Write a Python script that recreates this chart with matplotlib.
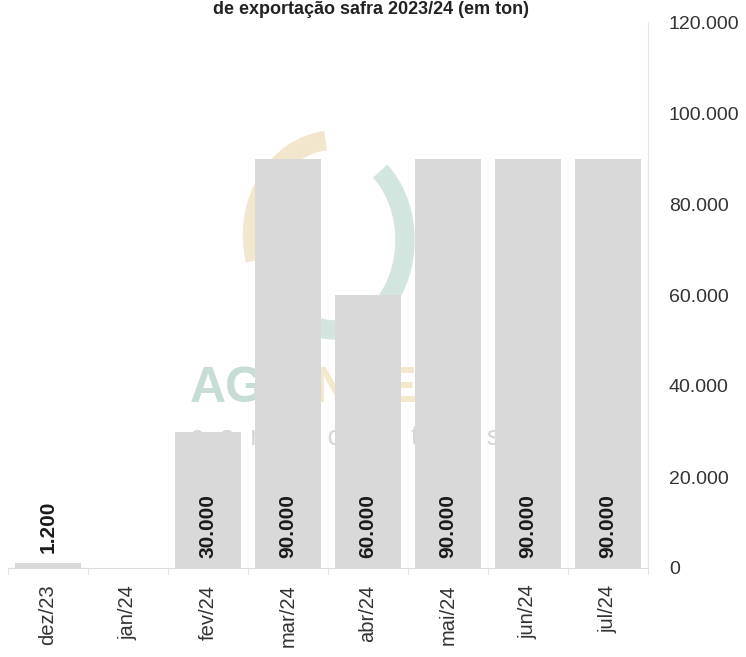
import matplotlib
matplotlib.use("Agg")
import matplotlib.pyplot as plt
from matplotlib.patches import Arc
from matplotlib.ticker import FuncFormatter

meses = ["dez/23", "jan/24", "fev/24", "mar/24", "abr/24", "mai/24", "jun/24", "jul/24"]
volumes = [1200, 0, 30000, 90000, 60000, 90000, 90000, 90000]
yticks = [0, 20000, 40000, 60000, 80000, 100000, 120000]
titulo = "de exportação safra 2023/24 (em ton)"

plt.rcParams["font.family"] = ["Liberation Sans", "DejaVu Sans"]

def br(v):
    return f"{v:,.0f}".replace(",", ".")

W, H = 746, 657
fig = plt.figure(figsize=(W / 100, H / 100), dpi=100)
ax = fig.add_axes([8 / W, (H - 568) / H, 640 / W, 546 / H])

x = range(len(meses))
ax.bar(x, volumes, width=0.83, color="#d9d9d9", zorder=2)

# faint logo watermark behind the bars (figure pixel coords, drawn in the axes)
def fx(px):
    return px / W
def fy(py):
    return 1 - py / H
tf = fig.transFigure
ax.add_patch(Arc((fx(335), fy(235)), 165 / W, 190 / H, theta1=95, theta2=200,
                 transform=tf, lw=14, color="#f2e6cc", zorder=1, clip_on=False))
ax.add_patch(Arc((fx(335), fy(240)), 140 / W, 180 / H, theta1=-110, theta2=60,
                 transform=tf, lw=14, color="#d3e5df", zorder=1, clip_on=False))
ag = ax.text(fx(190), fy(412), "AG", transform=tf, ha="left", va="bottom",
             fontsize=36, fontweight="bold", color="#c6dcd4", zorder=1)
ax.annotate("RINVEST", xy=(1, 0), xycoords=ag, ha="left", va="bottom",
            fontsize=36, fontweight="bold", color="#f3e7cc", zorder=1)
ax.text(fx(190), fy(445), "c  o  m  m  o  d  i  t  i  e  s", transform=tf, ha="left",
        va="baseline", fontsize=20, color="#d6d6d6", zorder=1)

for xi, v in zip(x, volumes):
    if v == 0:
        continue
    base = v if v < 10000 else 0
    ax.annotate(br(v), (xi, base), xytext=(0, 7), textcoords="offset points",
                rotation=90, ha="center", va="bottom", fontsize=15,
                fontweight="bold", color="#1a1a1a", zorder=3)

ax.set_xlim(-0.5, len(meses) - 0.5)
ax.set_ylim(0, 120000)
ax.set_xticks(list(x))
ax.set_xticklabels(meses, rotation=90, fontsize=14.5, color="#333333")
ax.set_xticks([i + 0.5 for i in range(-1, len(meses))], minor=True)
ax.tick_params(axis="x", which="major", length=0, pad=12)
ax.tick_params(axis="x", which="minor", length=4, color="#dddddd")

ax.yaxis.tick_right()
ax.set_yticks(yticks)
ax.yaxis.set_major_formatter(FuncFormatter(lambda v, p: br(v)))
ax.tick_params(axis="y", length=0, pad=15, labelsize=14, labelcolor="#333333")

for s in ("top", "left"):
    ax.spines[s].set_visible(False)
ax.spines["right"].set_color("#e6e6e6")
ax.spines["bottom"].set_color("#dddddd")

fig.text(fx(371), fy(10), titulo, ha="center", va="center", fontsize=13,
         fontweight="bold", color="#222222")

fig.savefig("out.png", dpi=100)
